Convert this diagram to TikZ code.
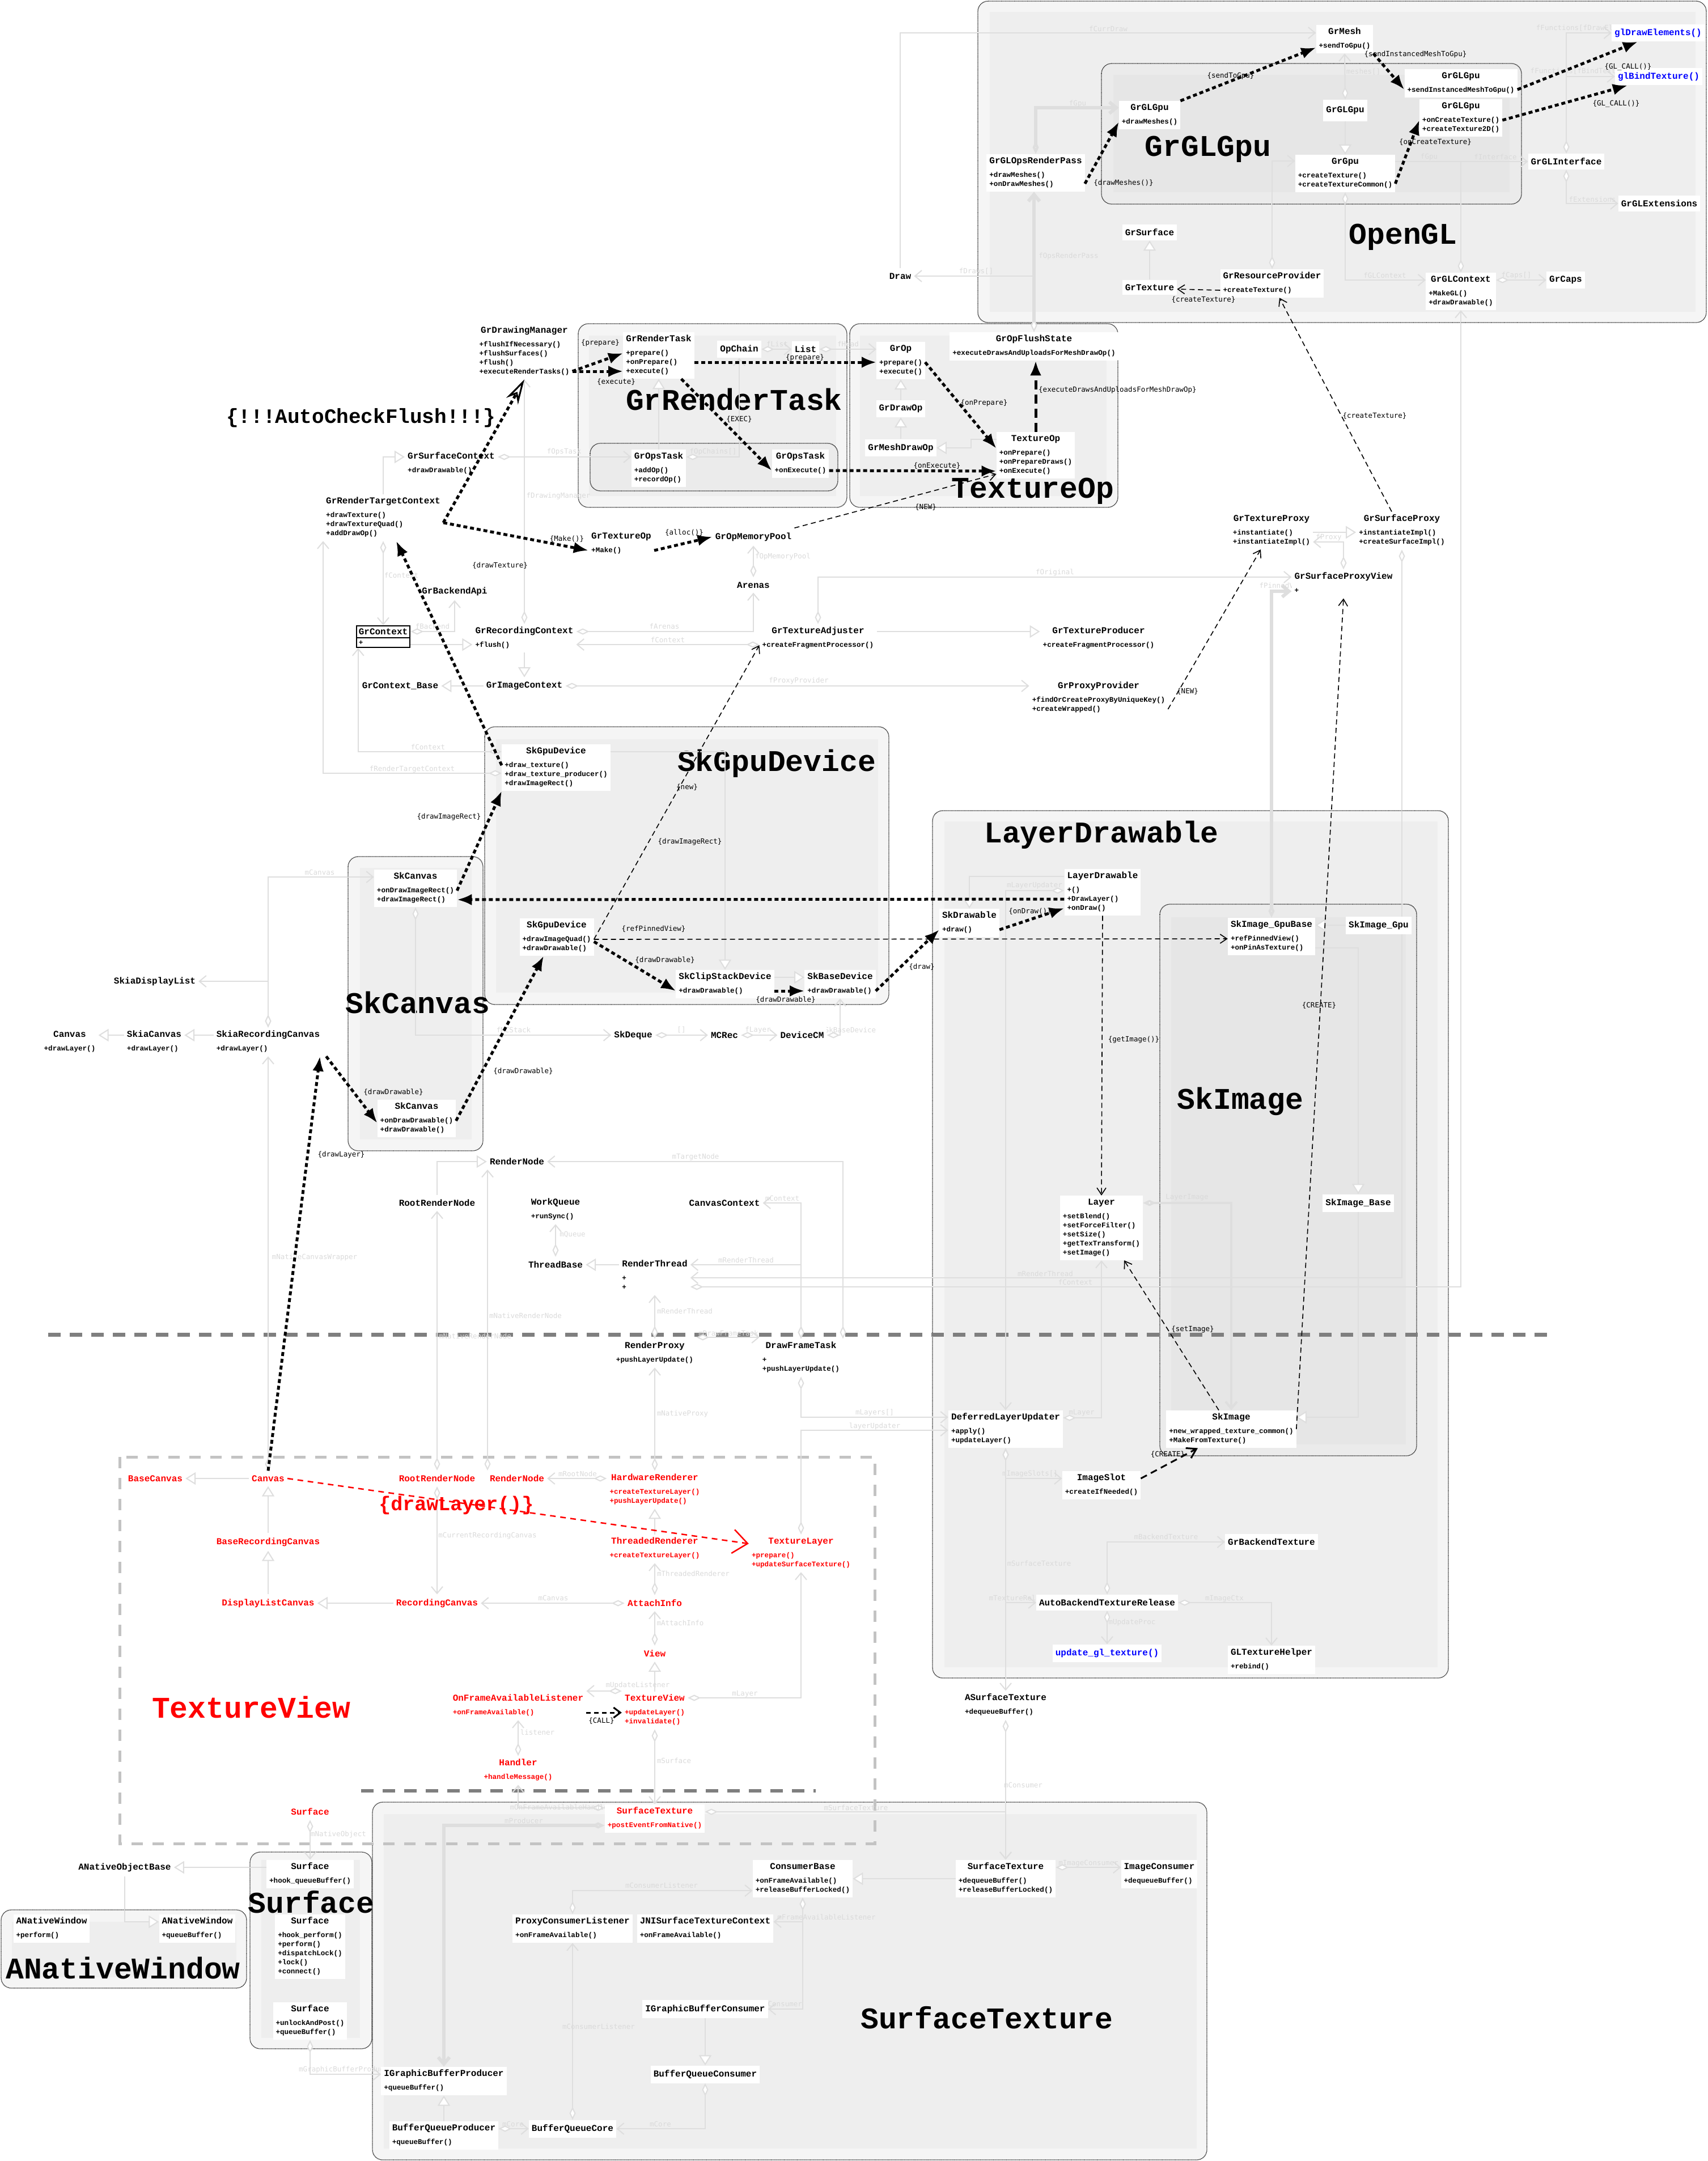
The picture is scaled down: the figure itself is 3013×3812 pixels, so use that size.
\documentclass[tikz,border=0pt]{standalone}
\usepackage{fontspec}
\usepackage{array}
\usetikzlibrary{arrows.meta,shapes.multipart}

\newfontfamily\monofam{Liberation Mono}
\newfontfamily\lblfam{DejaVu Sans Mono}
\newcommand{\clsfnt}{\monofam\bfseries\fontsize{16}{18}\selectfont}
\newcommand{\mfnt}{\monofam\bfseries\fontsize{12.6}{16}\selectfont}
\newcommand{\lblfnt}{\lblfam\fontsize{12.5}{14}\selectfont}
\newcommand{\bigfnt}{\monofam\bfseries\fontsize{53}{60}\selectfont}
\newcommand{\uml}[2]{\begin{tabular}{@{}>{\mfnt}l@{}}\multicolumn{1}{@{}c@{}}{\clsfnt #1}\\[8pt]#2\end{tabular}}

\definecolor{lnkc}{HTML}{DEDEDE}
\definecolor{fldc}{HTML}{DADADA}
\definecolor{grpout}{HTML}{F5F5F5}
\definecolor{grpfill}{HTML}{EEEEEE}
\definecolor{subout}{HTML}{EBEBEB}
\definecolor{subfill}{HTML}{E6E6E6}
\definecolor{sepc}{HTML}{7F7F7F}
\definecolor{tvc}{HTML}{C3C3C3}

\pgfdeclarelayer{grps}
\pgfdeclarelayer{lnks}
\pgfsetlayers{grps,lnks,main}

\tikzset{
  cls/.style={fill=white, inner sep=5pt, font=\mfnt},
  clsn/.style={fill=white, inner xsep=5pt, inner ysep=8pt, font=\clsfnt},
  redcls/.style={cls, text=red},
  redn/.style={clsn, text=red},
  bluen/.style={clsn, text=blue},
  grp/.style={draw=black, line width=1.3pt, densely dotted, rounded corners=18pt, fill=grpout},
  ttl/.style={font=\bigfnt, inner sep=0pt},
  lbl/.style={font=\lblfnt, inner sep=0pt},
  fld/.style={font=\lblfnt, text=fldc, inner sep=0pt},
  lnk/.style={draw=lnkc, line width=2pt},
  agg/.style={lnk, {Diamond[fill=white,length=23pt,width=11pt]}-{Straight Barb[length=12pt,width=20pt]}},
  inh/.style={lnk, -{Triangle[fill=white,length=18pt,width=22pt]}},
  callln/.style={line width=5pt, dash pattern=on 7pt off 5pt, -{Latex[length=26pt,width=20pt]}},
  calldash/.style={line width=5pt, dash pattern=on 16pt off 9pt, -{Latex[length=26pt,width=20pt]}},
  flushln/.style={line width=5pt, dash pattern=on 7pt off 5pt, -{Stealth[open,length=44pt,width=24pt,line width=3pt]}},
  refln/.style={line width=1.6pt, dash pattern=on 9pt off 6pt, -{Straight Barb[length=12pt,width=16pt]}},
  refthick/.style={line width=3pt, dash pattern=on 12pt off 8pt, -{Straight Barb[length=16pt,width=20pt]}},
  reddash/.style={draw=red, line width=2.5pt, dash pattern=on 10pt off 8pt, -{Straight Barb[length=26pt,width=42pt,line width=2.5pt]}},
  sepln/.style={draw=sepc, line width=7pt, dash pattern=on 22pt off 16pt},
  tvbox/.style={draw=tvc, line width=5pt, dash pattern=on 20pt off 17pt},
}

\begin{document}
\begin{tikzpicture}[x=1pt,y=-1pt]
\useasboundingbox (0,0) rectangle (3013,3812);

\begin{pgfonlayer}{grps}
\filldraw[grp] (1725,2) rectangle (3010,569);
\fill[grpfill] (1746,21) rectangle (2991,550);
\filldraw[grp, fill=subout] (1943,112) rectangle (2684,360);
\fill[subfill] (1964,132) rectangle (2663,339);
\filldraw[grp] (1020,571) rectangle (1494,895);
\fill[grpfill] (1039,592) rectangle (1475,875);
\filldraw[grp, fill=subout] (1041,782) rectangle (1478,866);
\filldraw[grp] (1499,571) rectangle (1972,895);
\fill[grpfill] (1517,592) rectangle (1952,875);
\filldraw[grp] (855,1282) rectangle (1568,1772);
\fill[grpfill] (875,1304) rectangle (1549,1751);
\filldraw[grp] (614,1511) rectangle (852,2030);
\fill[grpfill] (635,1531) rectangle (832,2010);
\filldraw[grp] (1645,1430) rectangle (2555,2960);
\fill[grpfill] (1666,1449) rectangle (2536,2941);
\filldraw[grp, fill=subout] (2046,1595) rectangle (2499,2568);
\fill[subfill] (2066,1618) rectangle (2480,2548);
\filldraw[grp] (441,3267) rectangle (656,3614);
\fill[grpfill] (461,3281) rectangle (635,3595);
\filldraw[grp] (2,3369) rectangle (435,3507);
\fill[grpfill] (21,3390) rectangle (417,3488);
\filldraw[grp] (657,3179) rectangle (2129,3810);
\fill[grpfill] (677,3200) rectangle (2111,3790);

\draw[sepln] (85,2354) -- (2736,2354);
\draw[tvbox] (211,2570) rectangle (1543,3252);
\draw[sepln, line width=6pt] (637,3159) -- (1439,3159);

\node[ttl] (t1) at (2131,263) {GrGLGpu};
\node[ttl] (t2) at (2475,418) {OpenGL};
\node[ttl] (t3) at (1295,705) {GrRenderTask};
\node[ttl] (t4) at (1822,866) {TextureOp};
\node[ttl] (t5) at (1370,1347) {SkGpuDevice};
\node[ttl] (t6) at (737,1769) {SkCanvas};
\node[ttl] (t7) at (1943,1473) {LayerDrawable};
\node[ttl] (t8) at (2188,1943) {SkImage};
\node[ttl, text=red] (t9) at (443,3012) {TextureView};
\node[ttl] (t10) at (549,3355) {Surface};
\node[ttl] (t11) at (217,3472) {ANativeWindow};
\node[ttl] (t12) at (1741,3559) {SurfaceTexture};
\end{pgfonlayer}

% OpenGL
\node[cls] (glMesh) at (2372,69) {\uml{GrMesh}{+sendToGpu()}};
\node[bluen] (glDrawElem) at (2925,58) {glDrawElements()};
\node[bluen] (glBindTex) at (2926,135) {glBindTexture()};
\node[cls] (glGpuInst) at (2577,147) {\uml{GrGLGpu}{+sendInstancedMeshToGpu()}};
\node[cls] (glGpuTex) at (2577,208) {\uml{GrGLGpu}{+onCreateTexture()\\+createTexture2D()}};
\node[cls] (glGpuDraw) at (2028,203) {\uml{GrGLGpu}{+drawMeshes()}};
\node[clsn, minimum height=38pt] (glGpuBase) at (2373,195) {GrGLGpu};
\node[cls] (opsRP) at (1827,305) {\uml{GrGLOpsRenderPass}{+drawMeshes()\\+onDrawMeshes()}};
\node[cls] (grGpu) at (2373,306) {\uml{GrGpu}{+createTexture()\\+createTextureCommon()}};
\node[clsn] (glIface) at (2763,285) {GrGLInterface};
\node[clsn] (glExt) at (2927,359) {GrGLExtensions};
\node[clsn] (grSurface) at (2028,410) {GrSurface};
\node[clsn] (grTexture) at (2028,507) {GrTexture};
\node[cls] (resProv) at (2244,500) {\uml{GrResourceProvider}{+createTexture()}};
\node[cls] (glCtx) at (2577,514) {\uml{GrGLContext}{+MakeGL()\\+drawDrawable()}};
\node[clsn] (grCaps) at (2762,494) {GrCaps};
\node[clsn] (drawNd) at (1588,487) {Draw};

% GrRenderTask / TextureOp
\node[cls] (drawMgr) at (925,620) {\uml{GrDrawingManager}{+flushIfNecessary()\\+flushSurfaces()\\+flush()\\+executeRenderTasks()}};
\node[cls] (renderTask) at (1162,627) {\uml{GrRenderTask}{+prepare()\\+onPrepare()\\+execute()}};
\node[clsn] (opChain) at (1304,616) {OpChain};
\node[clsn] (opList) at (1421,616) {List};
\node[cls] (grOp) at (1589,636) {\uml{GrOp}{+prepare()\\+execute()}};
\node[cls] (flushState) at (1824,611) {\uml{GrOpFlushState}{+executeDrawsAndUploadsForMeshDrawOp()}};
\node[clsn] (drawOp) at (1589,721) {GrDrawOp};
\node[clsn] (meshDrawOp) at (1589,790) {GrMeshDrawOp};
\node[cls] (texOp) at (1827,803) {\uml{TextureOp}{+onPrepare()\\+onPrepareDraws()\\+onExecute()}};
\node[cls] (opsTaskA) at (1162,826) {\uml{GrOpsTask}{+addOp()\\+recordOp()}};
\node[cls] (opsTaskB) at (1412,818) {\uml{GrOpsTask}{+onExecute()}};
\node[cls] (surfCtx) at (796,818) {\uml{GrSurfaceContext}{+drawDrawable()}};
\node[cls] (rtCtx) at (676,913) {\uml{GrRenderTargetContext}{+drawTexture()\\+drawTextureQuad()\\+addDrawOp()}};
\node[cls] (texOpMake) at (1096,959) {\uml{GrTextureOp}{+Make()}};
\node[clsn] (memPool) at (1329,947) {GrOpMemoryPool};
\node[clsn] (arenas) at (1329,1032) {Arenas};
\node[clsn] (backendApi) at (802,1043) {GrBackendApi};
\node[cls, draw=black, line width=2pt, inner sep=4pt, rectangle split, rectangle split parts=2,
      rectangle split part align={center,left}, font=\clsfnt] (grContext) at (676,1123) {GrContext\nodepart{two}\mfnt +};
\node[cls] (recCtx) at (925,1126) {\uml{GrRecordingContext}{+flush()}};
\node[cls] (texAdj) at (1443,1126) {\uml{GrTextureAdjuster}{+createFragmentProcessor()}};
\node[cls] (texProd) at (1938,1126) {\uml{GrTextureProducer}{+createFragmentProcessor()}};
\node[clsn] (ctxBase) at (706,1210) {GrContext\_Base};
\node[clsn] (imgCtx) at (925,1210) {GrImageContext};
\node[cls] (proxyProv) at (1938,1231) {\uml{GrProxyProvider}{+findOrCreateProxyByUniqueKey()\\+createWrapped()}};
\node[cls] (texProxy) at (2243,936) {\uml{GrTextureProxy}{+instantiate()\\+instantiateImpl()}};
\node[cls] (surfProxy) at (2473,936) {\uml{GrSurfaceProxy}{+instantiateImpl()\\+createSurfaceImpl()}};
\node[cls] (proxyView) at (2370,1030) {\uml{GrSurfaceProxyView}{+}};

% Skia
\node[cls] (gpuDevA) at (981,1354) {\uml{SkGpuDevice}{+draw\_texture()\\+draw\_texture\_producer()\\+drawImageRect()}};
\node[cls] (canvasA) at (733,1567) {\uml{SkCanvas}{+onDrawImageRect()\\+drawImageRect()}};
\node[cls] (gpuDevB) at (982,1653) {\uml{SkGpuDevice}{+drawImageQuad()\\+drawDrawable()}};
\node[cls] (clipDev) at (1279,1736) {\uml{SkClipStackDevice}{+drawDrawable()}};
\node[cls] (baseDev) at (1482,1736) {\uml{SkBaseDevice}{+drawDrawable()}};
\node[cls] (canvasB) at (735,1973) {\uml{SkCanvas}{+onDrawDrawable()\\+drawDrawable()}};
\node[clsn] (skiaDL) at (273,1731) {SkiaDisplayList};
\node[cls] (canvasC) at (123,1838) {\uml{Canvas}{+drawLayer()}};
\node[cls] (skiaCanvas) at (272,1838) {\uml{SkiaCanvas}{+drawLayer()}};
\node[cls] (skiaRecCanvas) at (473,1838) {\uml{SkiaRecordingCanvas}{+drawLayer()}};
\node[clsn] (skDeque) at (1117,1826) {SkDeque};
\node[clsn] (mcRec) at (1278,1826) {MCRec};
\node[clsn] (deviceCM) at (1415,1826) {DeviceCM};

% LayerDrawable / SkImage
\node[cls] (layerDrw) at (1945,1574) {\uml{LayerDrawable}{+()\\+DrawLayer()\\+onDraw()}};
\node[cls] (skDrawable) at (1710,1628) {\uml{SkDrawable}{+draw()}};
\node[cls] (imgGpuBase) at (2243,1652) {\uml{SkImage\_GpuBase}{+refPinnedView()\\+onPinAsTexture()}};
\node[clsn] (imgGpu) at (2432,1632) {SkImage\_Gpu};
\node[cls] (layer) at (1943,2166) {\uml{Layer}{+setBlend()\\+setForceFilter()\\+setSize()\\+getTexTransform()\\+setImage()}};
\node[clsn] (imgBase) at (2396,2122) {SkImage\_Base};
\node[cls] (dlu) at (1774,2521) {\uml{DeferredLayerUpdater}{+apply()\\+updateLayer()}};
\node[cls] (skImage) at (2172,2521) {\uml{SkImage}{+new\_wrapped\_texture\_common()\\+MakeFromTexture()}};
\node[cls] (imageSlot) at (1943,2620) {\uml{ImageSlot}{+createIfNeeded()}};
\node[clsn] (backendTex) at (2243,2720) {GrBackendTexture};
\node[clsn] (abtr) at (1953,2827) {AutoBackendTextureRelease};
\node[bluen] (updGl) at (1953,2916) {update\_gl\_texture()};
\node[cls] (glTexHelper) at (2243,2928) {\uml{GLTextureHelper}{+rebind()}};

% render thread
\node[clsn] (renderNode) at (912,2049) {RenderNode};
\node[clsn] (rootRN) at (771,2122) {RootRenderNode};
\node[cls] (workQ) at (980,2134) {\uml{WorkQueue}{+runSync()}};
\node[clsn] (canvasCtx) at (1278,2122) {CanvasContext};
\node[clsn] (threadBase) at (980,2231) {ThreadBase};
\node[cls] (renderThread) at (1155,2251) {\uml{RenderThread}{+\\+}};
\node[cls] (renderProxy) at (1155,2387) {\uml{RenderProxy}{+pushLayerUpdate()}};
\node[cls] (drawFrame) at (1413,2395) {\uml{DrawFrameTask}{+\\+pushLayerUpdate()}};
\node[cls] (aSurfTex) at (1774,3008) {\uml{ASurfaceTexture}{+dequeueBuffer()}};

% TextureView
\node[redn] (baseCanvasR) at (274,2608) {BaseCanvas};
\node[redn] (canvasR) at (473,2608) {Canvas};
\node[redn] (rootRNR) at (771,2608) {RootRenderNode};
\node[redn] (renderNodeR) at (912,2608) {RenderNode};
\node[redcls] (hwRenderer) at (1155,2628) {\uml{HardwareRenderer}{+createTextureLayer()\\+pushLayerUpdate()}};
\node[redn] (baseRecCanvas) at (473,2720) {BaseRecordingCanvas};
\node[redcls] (threadedR) at (1155,2732) {\uml{ThreadedRenderer}{+createTextureLayer()}};
\node[redcls] (texLayer) at (1413,2740) {\uml{TextureLayer}{+prepare()\\+updateSurfaceTexture()}};
\node[redn] (dlCanvas) at (473,2828) {DisplayListCanvas};
\node[redn] (recCanvas) at (771,2828) {RecordingCanvas};
\node[redn] (attachInfo) at (1155,2828) {AttachInfo};
\node[redn] (view) at (1155,2917) {View};
\node[redcls] (onFrameL) at (914,3009) {\uml{OnFrameAvailableListener}{+onFrameAvailable()}};
\node[redcls] (textureView) at (1155,3017) {\uml{TextureView}{+updateLayer()\\+invalidate()}};
\node[redcls] (handler) at (914,3123) {\uml{Handler}{+handleMessage()}};
\node[redn] (surfaceR) at (547,3196) {Surface};
\node[redcls] (surfTexR) at (1155,3208) {\uml{SurfaceTexture}{+postEventFromNative()}};

% Surface / SurfaceTexture
\node[clsn] (aNOB) at (220,3294) {ANativeObjectBase};
\node[cls] (surfA) at (547,3306) {\uml{Surface}{+hook\_queueBuffer()}};
\node[cls] (surfB) at (547,3434) {\uml{Surface}{+hook\_perform()\\+perform()\\+dispatchLock()\\+lock()\\+connect()}};
\node[cls] (surfC) at (547,3565) {\uml{Surface}{+unlockAndPost()\\+queueBuffer()}};
\node[cls] (anwA) at (91,3402) {\uml{ANativeWindow}{+perform()}};
\node[cls] (anwB) at (348,3402) {\uml{ANativeWindow}{+queueBuffer()}};
\node[cls] (igbp) at (783,3671) {\uml{IGraphicBufferProducer}{+queueBuffer()}};
\node[cls] (bqp) at (783,3767) {\uml{BufferQueueProducer}{+queueBuffer()}};
\node[clsn] (bqc) at (1010,3755) {BufferQueueCore};
\node[cls] (pcl) at (1010,3402) {\uml{ProxyConsumerListener}{+onFrameAvailable()}};
\node[cls] (consumerBase) at (1416,3314) {\uml{ConsumerBase}{+onFrameAvailable()\\+releaseBufferLocked()}};
\node[cls] (surfTexB) at (1774,3314) {\uml{SurfaceTexture}{+dequeueBuffer()\\+releaseBufferLocked()}};
\node[cls] (imgConsumer) at (2045,3306) {\uml{ImageConsumer}{+dequeueBuffer()}};
\node[cls] (jniCtx) at (1244,3402) {\uml{JNISurfaceTextureContext}{+onFrameAvailable()}};
\node[clsn] (igbc) at (1244,3544) {IGraphicBufferConsumer};
\node[clsn] (bqCons) at (1244,3659) {BufferQueueConsumer};

\begin{pgfonlayer}{lnks}
\draw[lnk, -{Straight Barb[length=12pt,width=20pt]}] (drawNd.north) |- ([yshift=11pt]glMesh.west);
\node[fld] (fl1) at (1955,51) {fCurrDraw};
\draw[agg, line width=6pt] (flushState.north) -- (flushState.north |- opsRP.south);
\draw[agg] (flushState.north) |- (drawNd.east);
\node[fld] (fl2) at (1885,452) {fOpsRenderPass};
\node[fld] (fl3) at (1722,479) {fDraws[]};
\draw[agg, line width=6pt] (opsRP.north) |- ([yshift=13pt]glGpuDraw.west);
\node[fld] (fl4) at (1901,183) {fGpu};
\draw[agg] (glGpuBase.north) -- (glMesh.south);
\node[fld] (fl5) at (2405,127) {meshes[]};
\draw[inh] (glGpuBase.south) -- (grGpu.north);
\draw[agg] (grGpu.south) |- ([yshift=20pt]glCtx.west);
\node[fld] (fl6) at (2443,486) {fGLContext};
\draw[agg] (resProv.north) |- ([yshift=22pt]grGpu.west);
\draw[agg] (glCtx.north) |- (glIface.west);
\draw[lnk] ([yshift=21pt]grGpu.east) -- (glCtx.north |- glIface.west);
\node[fld] (fl7) at (2521,277) {fGpu};
\node[fld] (fl8) at (2638,277) {fInterface};
\draw[agg] ([yshift=20pt]glCtx.east) -- (grCaps.west);
\node[fld] (fl9) at (2675,486) {fCaps[]};
\draw[agg] (glIface.north) |- (glDrawElem.west);
\node[fld] (fl10) at (2804,50) {fFunctions[fDrawElements]};
\draw[agg] (glIface.north) |- (glBindTex.west);
\node[fld] (fl11) at (2790,126) {fFunctions[fBindTexture]};
\draw[agg] (glIface.south) |- (glExt.west);
\node[fld] (fl12) at (2809,352) {fExtensions};
\draw[inh] (grTexture.north) -- (grSurface.south);

\draw[agg] (opChain.east) -- (opList.west);
\node[fld] (fl13) at (1371,607) {fList};
\draw[agg] (opList.east) -- ([yshift=20pt]grOp.west);
\node[fld] (fl14) at (1496,607) {fHead};
\draw[agg] ([yshift=20pt]opsTaskA.east) -| (opChain.south);
\node[fld] (fl15) at (1258,797) {fOpChains[]};
\draw[inh] (opsTaskA.north) -- (renderTask.south);
\draw[agg] ([yshift=12pt]surfCtx.east) -- ([yshift=20pt]opsTaskA.west);
\node[fld] (fl16) at (995,797) {fOpsTask};
\draw[agg] (recCtx.north) -- (drawMgr.south);
\node[fld] (fl17) at (985,875) {fDrawingManager};
\draw[inh] (drawOp.north) -- (grOp.south);
\draw[inh] (meshDrawOp.north) -- (drawOp.south);
\draw[inh] ([yshift=28pt]texOp.west) -- ++(-45,0) |- (meshDrawOp.east);
\draw[agg] (arenas.north) -- (memPool.south);
\node[fld] (fl18) at (1381,982) {fOpMemoryPool};
\draw[agg] ([yshift=12pt]recCtx.east) -| (arenas.south);
\node[fld] (fl19) at (1172,1105) {fArenas};
\draw[agg] ([yshift=-11pt]texAdj.west) -- ([yshift=-11pt]recCtx.east);
\node[fld] (fl20) at (1178,1129) {fContext};
\draw[inh] ([yshift=12pt]texAdj.east) -- ([yshift=12pt]texProd.west);
\draw[agg] (texAdj.north) |- ([yshift=12pt]proxyView.west);
\node[fld] (fl21) at (1861,1010) {fOriginal};
\draw[agg] (imgCtx.east) -- ([yshift=21pt]proxyProv.west);
\node[fld] (fl22) at (1409,1201) {fProxyProvider};
\draw[inh] (imgCtx.west) -- (ctxBase.east);
\draw[inh] (recCtx.south) -- (imgCtx.north);
\draw[inh] ([yshift=-14pt]grContext.east) -- ([yshift=-11pt]recCtx.west);
\draw[agg] ([yshift=9pt]grContext.east) -| (backendApi.south);
\node[fld] (fl23) at (763,1105) {fBackend};
\draw[agg] (rtCtx.south) -- (grContext.north);
\node[fld] (fl24) at (708,1015) {fContext};
\draw[inh] (rtCtx.north) |- ([yshift=12pt]surfCtx.west);
\draw[inh] ([yshift=-3pt]texProxy.east) -- ([yshift=-3pt]surfProxy.west);
\draw[agg] (proxyView.north) |- ([yshift=-20pt]texProxy.east);
\node[fld] (fl25) at (2344,948) {fProxy};
\draw[agg, line width=6pt] (imgGpuBase.north) |- ([yshift=-13pt]proxyView.west);
\node[fld] (fl26) at (2263,1033) {fPinnedView};
\draw[agg] (surfProxy.south) |- ([yshift=-3pt]renderThread.east);
\node[fld] (fl27) at (1844,2247) {mRenderThread};
\draw[agg] ([yshift=-19pt]renderThread.east) -| (glCtx.south);
\node[fld] (fl28) at (1897,2262) {fContext};

\draw[agg] (skiaRecCanvas.north) |- ([yshift=20pt]canvasA.west);
\node[fld] (fl29) at (564,1539) {mCanvas};
\draw[agg] (skiaRecCanvas.north) |- (skiaDL.east);
\draw[inh] ([yshift=12pt]skiaRecCanvas.west) -- ([yshift=12pt]skiaCanvas.east);
\draw[inh] ([yshift=12pt]skiaCanvas.west) -- ([yshift=12pt]canvasC.east);
\draw[agg] (canvasA.south) |- (skDeque.west);
\node[fld] (fl30) at (906,1817) {fMCStack};
\draw[agg] (skDeque.east) -- (mcRec.west);
\node[fld] (fl31) at (1202,1817) {[]};
\draw[agg] (mcRec.east) -- (deviceCM.west);
\node[fld] (fl32) at (1337,1817) {fLayer};
\draw[agg] (deviceCM.east) -| (baseDev.south);
\node[fld] (fl33) at (1500,1817) {SkBaseDevice};
\draw[inh] ([yshift=28pt]gpuDevA.east) -| (clipDev.north);
\draw[inh] ([yshift=12pt]clipDev.east) -- ([yshift=12pt]baseDev.west);
\draw[agg] ([yshift=28pt]gpuDevA.west) -| ([xshift=4pt]grContext.south west);
\node[fld] (fl34) at (755,1318) {fContext};
\draw[agg] ([yshift=-10pt]gpuDevA.west) -| (rtCtx.south west);
\node[fld] (fl35) at (727,1357) {fRenderTargetContext};

\draw[inh] ([yshift=28pt]layerDrw.west) -| (skDrawable.north);
\draw[agg] ([yshift=3pt]layerDrw.west) -| (dlu.north);
\node[fld] (fl36) at (1825,1562) {mLayerUpdater};
\draw[inh] (imgGpu.west) -- ([yshift=20pt]imgGpuBase.east);
\draw[inh] ([yshift=-20pt]imgGpuBase.east) -| (imgBase.north);
\draw[inh] (imgBase.south) |- ([yshift=21pt]skImage.east);
\draw[agg, line width=4pt] ([yshift=44pt]layer.east) -| (skImage.north);
\node[fld] (fl37) at (2094,2112) {LayerImage};
\draw[agg] ([yshift=20pt]dlu.east) -| (layer.south);
\node[fld] (fl38) at (1908,2492) {mLayer};
\draw[agg] (dlu.south) |- ([yshift=12pt]imageSlot.west);
\node[fld] (fl39) at (1817,2600) {mImageSlots[]};
\draw[agg] (dlu.south) |- (abtr.west);
\node[fld] (fl40) at (1801,2819) {mTextureRelease};
\draw[agg] (dlu.south) -- (aSurfTex.north);
\node[fld] (fl41) at (1833,2758) {mSurfaceTexture};
\draw[agg] (abtr.north) |- (backendTex.west);
\node[fld] (fl42) at (2057,2711) {mBackendTexture};
\draw[agg] (abtr.south) -- (updGl.north);
\node[fld] (fl43) at (1997,2862) {mUpdateProc};
\draw[agg] (abtr.east) -| (glTexHelper.north);
\node[fld] (fl44) at (2160,2820) {mImageCtx};

\draw[agg] (texLayer.north) |- ([yshift=-2pt]dlu.west);
\node[fld] (fl45) at (1543,2516) {layerUpdater};
\draw[agg] (drawFrame.south) |- ([yshift=21pt]dlu.west);
\node[fld] (fl46) at (1543,2492) {mLayers[]};
\draw[agg] ([yshift=28pt]renderProxy.east) -- ([yshift=36pt]drawFrame.west);
\node[fld] (fl47) at (1285,2352) {mDrawFrameTask};
\draw[agg] (renderProxy.north) -- (renderThread.south);
\node[fld] (fl48) at (1208,2313) {mRenderThread};
\draw[agg] (drawFrame.north) |- (canvasCtx.east);
\node[fld] (fl49) at (1380,2114) {mContext};
\draw[agg] (drawFrame.north) |- ([yshift=20pt]renderThread.east);
\node[fld] (fl50) at (1316,2223) {mRenderThread};
\draw[agg] ([xshift=74pt]drawFrame.north) |- (renderNode.east);
\node[fld] (fl51) at (1227,2041) {mTargetNode};
\draw[agg] (threadBase.north) -- (workQ.south);
\node[fld] (fl52) at (1010,2178) {mQueue};
\draw[inh] ([yshift=20pt]renderThread.west) -- (threadBase.east);
\draw[inh] (rootRN.north) |- (renderNode.west);
\draw[agg] ([xshift=-52pt]renderNodeR.north) -- ([xshift=-52pt]renderNode.south);
\node[fld] (fl53) at (927,2321) {mNativeRenderNode};
\draw[agg] (rootRNR.north) -- (rootRN.south);
\node[fld] (fl54) at (838,2357) {mNativeRenderNode};
\draw[agg] (hwRenderer.north) -- (renderProxy.south);
\node[fld] (fl55) at (1204,2494) {mNativeProxy};
\draw[agg] (canvasR.north) -- (skiaRecCanvas.south);
\node[fld] (fl56) at (555,2218) {mNativeCanvasWrapper};

\draw[inh] (canvasR.west) -- (baseCanvasR.east);
\draw[inh] (baseRecCanvas.north) -- (canvasR.south);
\draw[inh] (dlCanvas.north) -- (baseRecCanvas.south);
\draw[inh] (recCanvas.west) -- (dlCanvas.east);
\draw[agg] (attachInfo.west) -- (recCanvas.east);
\node[fld] (fl57) at (976,2819) {mCanvas};
\draw[agg] (rootRNR.south) -- (recCanvas.north);
\node[fld] (fl58) at (860,2709) {mCurrentRecordingCanvas};
\draw[agg] ([yshift=20pt]hwRenderer.west) -- (renderNodeR.east);
\node[fld] (fl59) at (1019,2600) {mRootNode};
\draw[inh] (threadedR.north) -- (hwRenderer.south);
\draw[agg] (attachInfo.north) -- (threadedR.south);
\node[fld] (fl60) at (1223,2776) {mThreadedRenderer};
\draw[agg] (view.north) -- (attachInfo.south);
\node[fld] (fl61) at (1200,2863) {mAttachInfo};
\draw[inh] (textureView.north) -- (view.south);
\draw[agg] ([yshift=34pt]textureView.west) -- ([yshift=26pt]onFrameL.east);
\node[fld] (fl62) at (1125,2973) {mUpdateListener};
\draw[agg] ([yshift=22pt]textureView.east) -| (texLayer.south);
\node[fld] (fl63) at (1314,2988) {mLayer};
\draw[agg] (handler.north) -- (onFrameL.south);
\node[fld] (fl64) at (948,3056) {listener};
\draw[agg] (textureView.south) -- (surfTexR.north);
\node[fld] (fl65) at (1189,3106) {mSurface};
\draw[agg] ([yshift=19pt]surfTexR.west) -| (handler.south);
\node[fld] (fl66) at (990,3188) {mOnFrameAvailableHandler};
\draw[agg, line width=6pt] ([yshift=-12pt]surfTexR.west) -| (igbp.north);
\node[fld] (fl67) at (924,3212) {mProducer};
\draw[agg] ([yshift=12pt]surfTexR.east) -| (surfTexB.north);
\node[fld] (fl68) at (1510,3189) {mSurfaceTexture};
\draw[agg] (aSurfTex.south) -- (surfTexB.north);
\node[fld] (fl69) at (1805,3149) {mConsumer};
\draw[agg] (surfaceR.south) -- (surfA.north);
\node[fld] (fl70) at (597,3236) {mNativeObject};

\draw[inh] ([yshift=12pt]surfA.west) -- (aNOB.east);
\draw[inh] (aNOB.south) |- ([yshift=12pt]anwB.west);
\draw[agg] (surfC.south) |- ([yshift=12pt]igbp.west);
\node[fld] (fl71) at (610,3651) {mGraphicBufferProducer};
\draw[inh] (bqp.north) -- (igbp.south);
\draw[agg] ([yshift=12pt]bqp.east) -- (bqc.west);
\node[fld] (fl72) at (905,3747) {mCore};
\draw[agg] (bqc.north) -- (pcl.south);
\node[fld] (fl73) at (1056,3575) {mConsumerListener};
\draw[agg] (pcl.north) |- ([yshift=-21pt]consumerBase.west);
\node[fld] (fl74) at (1167,3326) {mConsumerListener};
\draw[agg] (consumerBase.south) |- ([yshift=12pt]jniCtx.east);
\node[fld] (fl75) at (1458,3382) {mFrameAvailableListener};
\draw[agg] (consumerBase.south) |- (igbc.east);
\node[fld] (fl76) at (1381,3535) {mConsumer};
\draw[inh] (igbc.south) -- (bqCons.north);
\draw[agg] (bqCons.south) |- (bqc.east);
\node[fld] (fl77) at (1165,3747) {mCore};
\draw[inh] (surfTexB.west) -- (consumerBase.east);
\draw[agg] ([yshift=20pt]surfTexB.east) -- ([yshift=12pt]imgConsumer.west);
\node[fld] (fl78) at (1920,3287) {mImageConsumer};
\end{pgfonlayer}

% call flow
\draw[callln] ([yshift=-19pt]opsRP.east) -- ([yshift=-12pt]glGpuDraw.west);
\node[lbl] (lb1) at (1982,323) {\{drawMeshes()\}};
\draw[callln] (glGpuDraw.north east) -- ([yshift=-15pt]glMesh.west);
\node[lbl] (lb2) at (2171,134) {\{sendToGpu\}};
\draw[callln] (glMesh.south east) -- ([yshift=-11pt]glGpuInst.west);
\node[lbl] (lb3) at (2497,96) {\{sendInstancedMeshToGpu\}};
\draw[callln] ([yshift=-11pt]glGpuInst.east) -- ([xshift=-36pt]glDrawElem.south);
\node[lbl] (lb4) at (2872,118) {\{GL\_CALL()\}};
\draw[callln] ([yshift=-4pt]glGpuTex.east) -- ([xshift=-55pt]glBindTex.south);
\node[lbl] (lb5) at (2851,183) {\{GL\_CALL()\}};
\draw[callln] ([yshift=-18pt]grGpu.east) -- ([yshift=-4pt]glGpuTex.west);
\node[lbl] (lb6) at (2532,251) {\{onCreateTexture\}};
\draw[refln] ([yshift=-12pt]resProv.west) -- ([yshift=-3pt]grTexture.east);
\node[lbl] (lb7) at (2123,529) {\{createTexture\}};
\draw[refln] ([xshift=-18pt]surfProxy.north) -- ([xshift=13pt]resProv.south);
\node[lbl] (lb8) at (2425,734) {\{createTexture\}};

\draw[callln] ([yshift=-35pt]drawMgr.east) -- ([yshift=4pt]renderTask.west);
\node[lbl] (lb9) at (1059,605) {\{prepare\}};
\draw[callln] ([yshift=-35pt]drawMgr.east) -- ([yshift=-28pt]renderTask.west);
\node[lbl] (lb10) at (1087,674) {\{execute\}};
\draw[callln] ([yshift=-12pt]renderTask.east) -- ([yshift=-3pt]grOp.west);
\node[lbl] (lb11) at (1420,631) {\{prepare\}};
\draw[callln] ([xshift=-23pt]renderTask.south east) -- ([yshift=-12pt]opsTaskB.west);
\node[lbl] (lb12) at (1304,740) {\{EXEC\}};
\draw[callln] ([yshift=-3pt]grOp.east) -- ([yshift=12pt]texOp.west);
\node[lbl] (lb13) at (1736,711) {\{onPrepare\}};
\draw[callln] ([yshift=-12pt]opsTaskB.east) -- ([yshift=-28pt]texOp.west);
\node[lbl] (lb14) at (1653,822) {\{onExecute\}};
\draw[calldash] (texOp.north) -- (texOp.north |- flushState.south);
\node[lbl, anchor=west] (lb15) at (1832,688) {\{executeDrawsAndUploadsForMeshDrawOp\}};
\draw[flushln] ([yshift=-9pt]rtCtx.east) -- (drawMgr.south);
\node[font=\monofam\bfseries\fontsize{36}{40}\selectfont, inner sep=0pt] (lb16) at (637,737) {\{!!!AutoCheckFlush!!!\}};
\draw[callln] ([yshift=-9pt]rtCtx.east) -- ([yshift=-12pt]texOpMake.west);
\node[lbl] (lb17) at (1000,951) {\{Make()\}};
\draw[callln] ([yshift=-12pt]texOpMake.east) -- (memPool.west);
\node[lbl] (lb18) at (1207,940) {\{alloc()\}};
\draw[refln] (memPool.north east) -- ([yshift=8pt]texOp.south west);
\node[lbl] (lb19) at (1633,895) {\{NEW\}};

\draw[callln] ([yshift=4pt]gpuDevA.west) -- ([xshift=23pt]rtCtx.south);
\node[lbl] (lb20) at (882,998) {\{drawTexture\}};
\draw[callln] ([yshift=-4pt]canvasA.east) -- (gpuDevA.south west);
\node[lbl] (lb21) at (792,1441) {\{drawImageRect\}};
\draw[callln] ([yshift=-12pt]layerDrw.west) -- ([yshift=-20pt]canvasA.east);
\draw[refln] ([yshift=-4pt]gpuDevB.east) -- ([yshift=-4pt]imgGpuBase.west);
\node[lbl] (lb22) at (1153,1639) {\{refPinnedView\}};
\draw[refln] ([yshift=-4pt]gpuDevB.east) -- ([yshift=-12pt]texAdj.west);
\node[lbl] (lb23) at (1212,1389) {\{new\}};
\node[lbl] (lb24) at (1217,1485) {\{drawImageRect\}};
\draw[callln] ([yshift=-8pt]gpuDevB.east) -- ([yshift=-12pt]clipDev.west);
\node[lbl] (lb25) at (1173,1694) {\{drawDrawable\}};
\draw[callln] ([yshift=-12pt]clipDev.east) -- ([yshift=-12pt]baseDev.west);
\node[lbl] (lb26) at (1386,1764) {\{drawDrawable\}};
\draw[callln] ([yshift=-12pt]baseDev.east) -- ([yshift=-12pt]skDrawable.west);
\node[lbl] (lb27) at (1626,1706) {\{draw\}};
\draw[callln] ([yshift=-12pt]skDrawable.east) -- ([yshift=-28pt]layerDrw.west);
\node[lbl] (lb28) at (1817,1608) {\{onDraw()\}};
\draw[callln] ([yshift=-4pt]canvasB.east) -- ([xshift=-23pt]gpuDevB.south);
\node[lbl] (lb29) at (923,1890) {\{drawDrawable\}};
\draw[callln] (canvasR.north) -- ([xshift=-5pt]skiaRecCanvas.south east);
\node[lbl] (lb30) at (602,2037) {\{drawLayer\}};
\draw[callln] ([xshift=6pt]skiaRecCanvas.south east) -- ([yshift=-8pt]canvasB.west);
\node[lbl] (lb31) at (694,1927) {\{drawDrawable\}};

\draw[refln] (layerDrw.south) -- (layer.north);
\node[lbl] (lb32) at (2000,1834) {\{getImage()\}};
\draw[refln] ([xshift=-22pt]skImage.north) -- ([xshift=40pt]layer.south);
\node[lbl] (lb33) at (2104,2345) {\{setImage\}};
\draw[refln] (skImage.east) -- (proxyView.south);
\node[lbl] (lb34) at (2327,1774) {\{CREATE\}};
\draw[refln] ([yshift=-20pt]proxyProv.east) -- ([xshift=-19pt]texProxy.south);
\node[lbl] (lb35) at (2095,1220) {\{NEW\}};
\draw[refthick] ([yshift=12pt]imageSlot.east) -- ([xshift=-59pt]skImage.south);
\node[lbl] (lb36) at (2060,2566) {\{CREATE\}};

\draw[reddash] (canvasR.east) -- ([yshift=17pt]texLayer.west);
\node[font=\monofam\bfseries\fontsize{35}{40}\selectfont, text=red, inner sep=0pt] (lb37) at (805,2655) {\{drawLayer()\}};
\draw[line width=3pt, dash pattern=on 8pt off 6pt, -{Straight Barb[length=12pt,width=18pt]}] ([yshift=-12pt]onFrameL.east) -- ([yshift=-4pt]textureView.west);
\node[lbl] (lb38) at (1061,3036) {\{CALL\}};

\end{tikzpicture}
\end{document}
